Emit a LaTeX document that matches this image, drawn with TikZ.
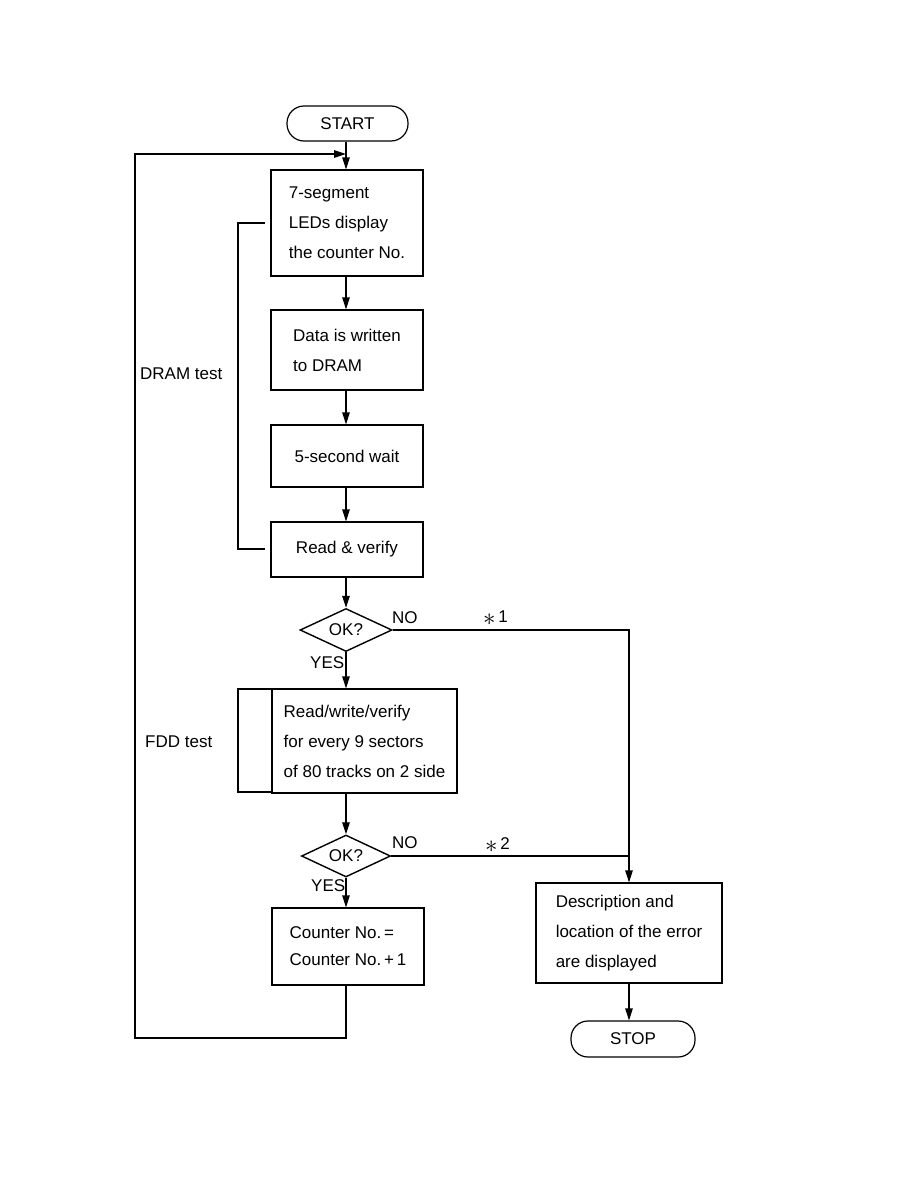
\documentclass[tikz,border=0pt]{standalone}
\usepackage{fontspec}
\setmainfont{Liberation Sans}
\usetikzlibrary{shapes.geometric,arrows.meta}
\newcommand{\bigast}{{\fontsize{26}{26}\selectfont\raisebox{-2.5pt}{$\ast$}}}
\begin{document}
\begin{tikzpicture}[x=1pt,y=-1pt,
  every node/.style={font=\fontsize{17}{30}\selectfont},
  ln/.style={line width=1.2pt},
  arr/.style={ln,-{Triangle[length=12pt,width=7.5pt]}},
  proc/.style={draw,ln,rectangle,align=left,inner sep=0pt},
  term/.style={draw,ln,rectangle,rounded corners=17pt,inner sep=0pt},
  dec/.style={draw,line width=1.4pt,diamond,inner sep=0pt,aspect=2.1},
  lbl/.style={inner sep=0pt,anchor=west}]
\path[use as bounding box,fill=white] (0,0) rectangle (921,1191);
\node[term,minimum width=121pt,minimum height=35pt] (start) at (347.5,123.5) {START};
\node[proc,minimum width=152pt,minimum height=106pt] (b1) at (347,223) {7-segment\\LEDs display\\the counter No.};
\node[proc,minimum width=152pt,minimum height=80pt] (b2) at (347,350) {Data is written\\to DRAM};
\node[proc,minimum width=152pt,minimum height=62pt] (b3) at (347,456) {5-second wait};
\node[proc,minimum width=152pt,minimum height=55pt] (b4) at (347,549.5) {Read \& verify};
\node[dec,minimum width=92pt,minimum height=43pt] (d1) at (346,630) {OK?};
\node[proc,minimum width=185pt,minimum height=104pt] (b5) at (364.5,741) {Read/write/verify\\for every 9 sectors\\of 80 tracks on 2 side};
\node[dec,minimum width=89pt,minimum height=42pt] (d2) at (346,856) {OK?};
\node[proc,minimum width=152pt,minimum height=77pt] (cnt) at (348,946.5) {Counter No.\,=\\[-3pt]Counter No.\,+\,1};
\node[proc,minimum width=186pt,minimum height=100pt] (err) at (629,933) {Description and\\location of the error\\are displayed};
\node[term,minimum width=124pt,minimum height=36pt] (stop) at (633,1039) {STOP};
% labels
\node[lbl] (dram) at (140,374) {DRAM test};
\node[lbl] (fdd) at (145,742) {FDD test};
\node[lbl] (no1) at (392,618) {NO};
\node[lbl] (s1) at (483,618) {\bigast\,1};
\node[lbl] (yes1) at (310,663) {YES};
\node[lbl] (no2) at (392,843) {NO};
\node[lbl] (s2) at (485,845) {\bigast\,2};
\node[lbl] (yes2) at (311,886) {YES};
% coordinates
\coordinate (merge) at (346,154);
\coordinate (lb) at (135,1038);
\coordinate (dt) at (265,223);
\coordinate (dbr) at (265,549);
\coordinate (ft) at (238,689);
\coordinate (fb) at (238,792);
% connectors
\draw[arr] (start.south -| merge) -- (b1.north -| merge);
\draw[arr] (b1.south -| merge) -- (b2.north -| merge);
\draw[arr] (b2.south -| merge) -- (b3.north -| merge);
\draw[arr] (b3.south -| merge) -- (b4.north -| merge);
\draw[arr] (b4.south -| merge) -- (d1.north);
\draw[arr] (d1.south) -- (d1.south |- b5.north);
\draw[arr] (b5.south -| d2) -- (d2.north);
\draw[arr] (d2.south) -- (d2.south |- cnt.north);
\draw[arr] (cnt.south -| merge) |- (lb) |- (merge);
\draw[arr] (d1.east) -| (err.north);
\draw[ln] (d2.east) -- (d2.east -| err.north);
\draw[arr] (err.south) -- (err.south |- stop.north);
% brackets
\draw[ln] (dt) -- (238,223) -- (238,549) -- (dbr);
\draw[ln] (ft -| b5.west) -- (ft) -- (fb) -- (fb -| b5.west);
\end{tikzpicture}
\end{document}
